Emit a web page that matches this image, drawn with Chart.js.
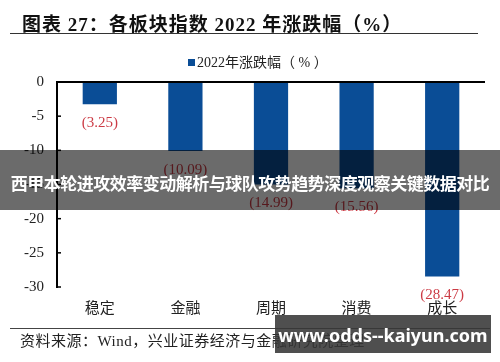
<!DOCTYPE html>
<html>
<head>
<meta charset="utf-8">
<script src="https://cdn.jsdelivr.net/npm/chart.js@4.4.0/dist/chart.umd.min.js"></script>
<style>
  html, body { margin: 0; padding: 0; background: #fff; }
  #wrap { position: relative; width: 500px; height: 362px; overflow: hidden; }
  #chart { position: absolute; left: 0; top: 0; }
  .abs { position: absolute; white-space: nowrap; }
  #title { left: 22px; top: 9px; font: bold 19px "Liberation Serif", "Noto Sans CJK SC", serif; color: #111; letter-spacing: 1px; }
  #title-rule { left: 10px; top: 33px; width: 468px; height: 0; border-top: 1.5px solid #333; }
  #legend { left: 188px; top: 51px; font: 14px "Liberation Serif", "Noto Sans CJK SC", serif; color: #222; }
  #legend i { display: inline-block; width: 7px; height: 7px; background: #0a4d96; margin-right: 2px; vertical-align: 1px; }
  #src-rule { left: 10px; top: 328px; width: 480px; height: 0; border-top: 1px solid #444; }
  #source { left: 20px; top: 329px; font: 15px "Liberation Serif", "Noto Sans CJK SC", serif; color: #222; letter-spacing: 0.5px; }
  #banner { left: 0; top: 150px; width: 500px; height: 60px; background: rgba(0,0,0,0.58); }
  #banner span { position: absolute; left: 0; width: 500px; top: 22px; text-align: center; font: bold 17px "Noto Sans CJK SC", sans-serif; color: #fff; line-height: 22px; letter-spacing: -0.5px; }
  #mark { left: 275px; top: 315px; width: 216px; height: 38px; background: rgba(55,55,55,0.88); }
  #mark span { position: absolute; left: 0; width: 216px; top: 9px; text-align: center; font: bold 18px "Noto Sans", sans-serif; color: #fff; line-height: 22px; }
</style>
</head>
<body>
<div id="wrap">
  <canvas id="chart" width="500" height="362"></canvas>
  <div class="abs" id="title">图表 27：各板块指数 2022 年涨跌幅（%）</div>
  <div class="abs" id="title-rule"></div>
  <div class="abs" id="legend"><i></i>2022年涨跌幅（ % ）</div>
  <div class="abs" id="src-rule"></div>
  <div class="abs" id="source">资料来源：Wind，兴业证券经济与金融研究院整理</div>
  <div class="abs" id="banner"><span>西甲本轮进攻效率变动解析与球队攻势趋势深度观察关键数据对比</span></div>
  <div class="abs" id="mark"><span>www.odds--kaiyun.com</span></div>
</div>
<script>
'use strict';

// ── Data ─────────────────────────────────────────────────────────────────────

const sectors = ['稳定', '金融', '周期', '消费', '成长'];
const change2022 = [-3.25, -10.09, -14.99, -15.56, -28.47];
const yTicks = [0, -5, -10, -15, -20, -25, -30];

const BLUE = '#0a4d96';
const RED = '#cc3b45';
const SERIF = '"Liberation Serif", "Noto Sans CJK SC", serif';

// ── Plugins ──────────────────────────────────────────────────────────────────

// short inward tick marks on the left axis
const innerTicks = {
  id: 'innerTicks',
  afterDraw(chart) {
    const { ctx, chartArea, scales: { y } } = chart;
    ctx.save();
    ctx.strokeStyle = '#000';
    ctx.lineWidth = 1.5;
    y.ticks.forEach(t => {
      const py = y.getPixelForValue(t.value);
      ctx.beginPath();
      ctx.moveTo(chartArea.left, py);
      ctx.lineTo(chartArea.left + 4, py);
      ctx.stroke();
    });
    ctx.restore();
  },
};

// "(3.25)" style labels under each bar end
const barLabels = {
  id: 'barLabels',
  afterDatasetsDraw(chart) {
    const { ctx } = chart;
    const meta = chart.getDatasetMeta(0);
    ctx.save();
    ctx.fillStyle = RED;
    ctx.font = '15px ' + SERIF;
    ctx.textAlign = 'center';
    ctx.textBaseline = 'middle';
    meta.data.forEach((bar, i) => {
      const v = Math.abs(change2022[i]).toFixed(2);
      ctx.fillText('(' + v + ')', bar.x, bar.y + 19);
    });
    ctx.restore();
  },
};

// ── Chart ────────────────────────────────────────────────────────────────────

new Chart(document.getElementById('chart'), {
  type: 'bar',
  data: {
    labels: sectors,
    datasets: [{
      label: '2022年涨跌幅（%）',
      data: change2022,
      backgroundColor: BLUE,
      borderWidth: 0,
      barPercentage: 0.4,
      categoryPercentage: 1,
    }],
  },
  options: {
    responsive: false,
    animation: false,
    events: [],
    layout: { padding: { top: 82, right: 15, bottom: 42, left: 0 } },
    plugins: {
      legend: { display: false },
      tooltip: { enabled: false },
    },
    scales: {
      x: {
        grid: { display: false, drawTicks: false },
        border: { display: false },
        ticks: { color: '#222', font: { size: 15, family: SERIF }, padding: 13 },
        afterFit(scale) { scale.height = 33; },
      },
      y: {
        min: -30, max: 0,
        afterBuildTicks(scale) { scale.ticks = yTicks.map(v => ({ value: v })); },
        grid: {
          drawTicks: false,
          color: c => (c.tick && c.tick.value === 0 ? '#000' : 'rgba(0,0,0,0)'),
          lineWidth: 2,
        },
        border: { display: true, color: '#000', width: 2 },
        ticks: { color: '#222', font: { size: 15, family: SERIF }, padding: 13 },
        afterFit(scale) { scale.width = 57; },
      },
    },
  },
  plugins: [innerTicks, barLabels],
});
</script>
</body>
</html>
